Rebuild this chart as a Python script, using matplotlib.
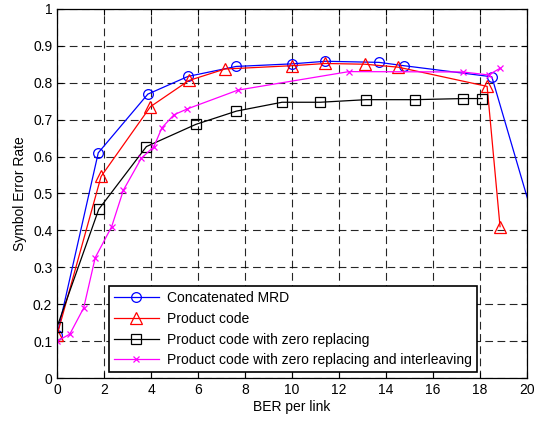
import matplotlib
matplotlib.use("Agg")
import matplotlib.pyplot as plt
import numpy as np

plt.rcParams['font.family'] = ['Liberation Sans', 'DejaVu Sans']
plt.rcParams['font.size'] = 10

# Concatenated MRD (last point lies past the right edge, clipped)
mrd_x = [0, 1.75, 3.86, 5.57, 7.62, 10.0, 11.42, 13.7, 14.76, 18.5, 20.6]
mrd_y = [0.117, 0.61, 0.769, 0.817, 0.844, 0.851, 0.858, 0.855, 0.846, 0.816, 0.36]

# Product code
pc_x = [0, 1.87, 3.97, 5.61, 7.14, 10.0, 11.42, 13.1, 14.52, 18.3, 18.85]
pc_y = [0.117, 0.546, 0.735, 0.806, 0.837, 0.846, 0.852, 0.850, 0.842, 0.790, 0.41]

# Product code with zero replacing
zr_x = [0, 1.77, 3.8, 5.9, 7.63, 9.57, 11.2, 13.15, 15.23, 17.27, 18.09]
zr_y = [0.139, 0.457, 0.627, 0.687, 0.723, 0.747, 0.747, 0.754, 0.754, 0.757, 0.757]

# Product code with zero replacing and interleaving
zi_x = [0, 0.54, 1.13, 1.62, 2.32, 2.82, 3.58, 4.12, 4.46, 4.97, 5.54, 7.7, 12.42, 17.27, 18.36, 18.85]
zi_y = [0.10, 0.119, 0.19, 0.326, 0.41, 0.509, 0.595, 0.627, 0.678, 0.713, 0.729, 0.780, 0.830, 0.829, 0.821, 0.839]

labels = ['Concatenated MRD', 'Product code', 'Product code with zero replacing',
          'Product code with zero replacing and interleaving']

fig = plt.figure(figsize=(5.34, 4.21), dpi=100)
ax = fig.add_axes([0.107, 0.102, 0.880, 0.877])

lw = 0.9
ax.plot(mrd_x, mrd_y, color='#0000ff', lw=lw, marker='o', ms=7, mfc='none', mew=0.9, label=labels[0])
ax.plot(pc_x, pc_y, color='#ff0000', lw=lw, marker='^', ms=8, mfc='none', mew=0.9, label=labels[1])
ax.plot(zr_x, zr_y, color='black', lw=lw, marker='s', ms=7, mfc='none', mew=0.9, label=labels[2])
ax.plot(zi_x, zi_y, color='#ff00ff', lw=lw, marker='x', ms=4.5, mew=0.9, label=labels[3])

ax.set_xlim(0, 20)
ax.set_ylim(0, 1)
ax.set_xticks(np.arange(0, 21, 2))
ax.set_yticks(np.arange(0, 1.01, 0.1))
ax.set_yticklabels(['0', '0.1', '0.2', '0.3', '0.4', '0.5', '0.6', '0.7', '0.8', '0.9', '1'])
ax.tick_params(direction='in', top=True, right=True, length=4, width=0.8, labelsize=10)
ax.grid(True, color='black', linestyle=(0, (7, 4)), linewidth=0.8, alpha=0.85)
for s in ax.spines.values():
    s.set_linewidth(0.9)

ax.set_xlabel('BER per link', fontsize=10, labelpad=2)
ax.set_ylabel('Symbol Error Rate', fontsize=10, labelpad=4)

leg = ax.legend(loc='lower left', bbox_to_anchor=(0.111, 0.016), fancybox=False,
                edgecolor='black', framealpha=1, handlelength=3.2, borderpad=0.35,
                labelspacing=0.48, handletextpad=0.6, borderaxespad=0, fontsize=10)
leg.get_frame().set_linewidth(1.2)

fig.savefig('out.png', dpi=100)
